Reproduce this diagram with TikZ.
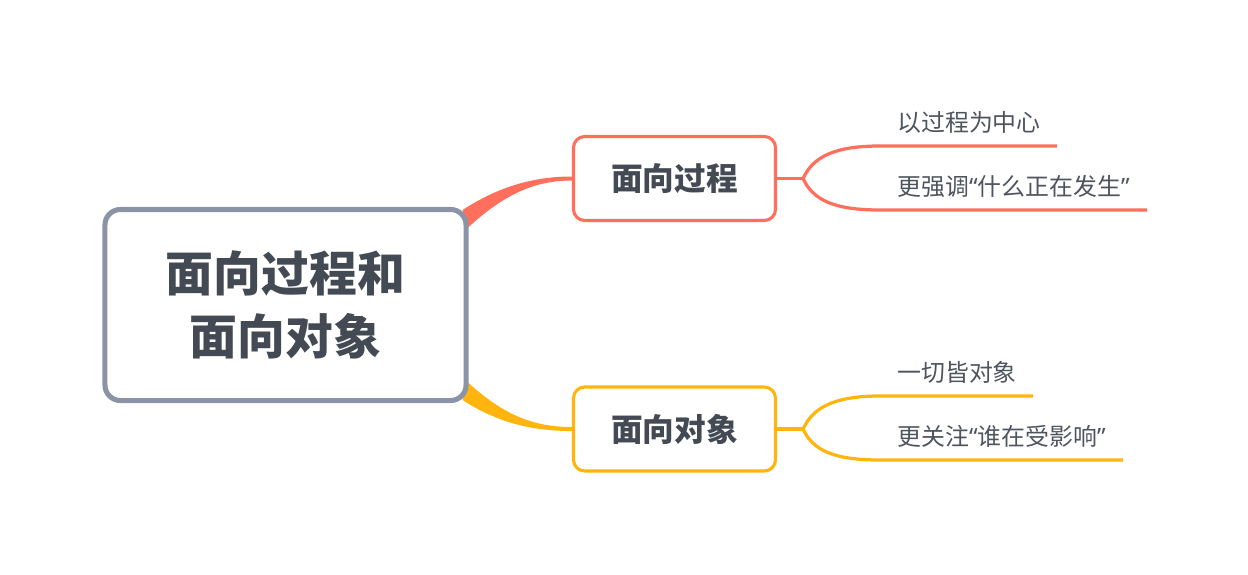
\documentclass[tikz,border=0pt]{standalone}
\usepackage{fontspec}
\setmainfont{Noto Sans CJK SC}
\newfontfamily\quotefont{Noto Sans}
\usepackage{tikz}
\usetikzlibrary{positioning, calc, backgrounds}
\definecolor{RootGray}{HTML}{8A94A6}
\definecolor{TextDark}{HTML}{434A54}
\definecolor{LeafText}{HTML}{4E555E}
\definecolor{ProcRed}{HTML}{FF6F5B}
\definecolor{ObjGold}{HTML}{FFB50D}
\newcommand{\oq}{{\quotefont “}}
\newcommand{\cq}{{\quotefont ”}}

\begin{document}
\begin{tikzpicture}[
    x=0.025cm, y=-0.025cm,
    root/.style={rectangle, draw=RootGray, line width=3.6pt, rounded corners=11pt, fill=white,
        minimum width=9.025cm, minimum height=4.775cm, align=center, text=TextDark,
        font=\fontsize{34}{45}\selectfont\bfseries},
    topic/.style={rectangle, line width=2.2pt, rounded corners=8pt, fill=white,
        minimum width=5.05cm, minimum height=2.1cm, text=TextDark,
        font=\fontsize{22.5}{26}\selectfont\bfseries},
    leaf/.style={anchor=west, inner sep=0pt, text=LeafText, font=\fontsize{17}{20}\selectfont},
    branch/.style={line width=2.3pt}
]
\useasboundingbox (0,0) rectangle (1248,574);

% Root
\node[root] (root) at (285.5,305) {面向过程和\\面向对象};

% Two topics
\node[topic, draw=ProcRed] (proc) at (674.5,178.5) {面向过程};
\node[topic, draw=ObjGold] (obj) at (674.5,429) {面向对象};

% Tapered connectors from root
\begin{scope}[on background layer]
\fill[ProcRed] ($(root.north east)+(-6,3)$) .. controls +(37,-24) and +(-37,0) .. ($(proc.west)+(0,-2)$)
    -- ($(proc.west)+(0,2)$) .. controls +(-37,0) and +(37,-34) .. ($(root.north east)+(-1,21)$) -- cycle;
\fill[ObjGold] ($(root.south east)+(-1,-21)$) .. controls +(37,34) and +(-37,0) .. ($(obj.west)+(0,-2)$)
    -- ($(obj.west)+(0,2)$) .. controls +(-37,0) and +(37,24) .. ($(root.south east)+(-6,-3)$) -- cycle;
\end{scope}

% Forks
\coordinate (pfork) at ($(proc.east)+(26,0)$);
\coordinate (ofork) at ($(obj.east)+(26,0)$);
\draw[branch, ProcRed] (proc.east) -- (pfork);
\draw[branch, ObjGold] (obj.east) -- (ofork);

% Leaves of 面向过程
\node[leaf] (p1) at (897,122) {以过程为中心};
\node[leaf] (p2) at (897,186) {更强调\oq 什么正在发生\cq};
\coordinate (p1end) at (1057,146);
\coordinate (p2end) at (1147,210);
\draw[branch, ProcRed] (pfork) .. controls +(10,-22) and +(-45,0) .. (880,146) -- (p1end);
\draw[branch, ProcRed] (pfork) .. controls +(10,22) and +(-45,0) .. (880,210) -- (p2end);

% Leaves of 面向对象
\node[leaf] (o1) at (897,372) {一切皆对象};
\node[leaf] (o2) at (897,436) {更关注\oq 谁在受影响\cq};
\coordinate (o1end) at (1033,396);
\coordinate (o2end) at (1123,460);
\draw[branch, ObjGold] (ofork) .. controls +(10,-22) and +(-45,0) .. (880,396) -- (o1end);
\draw[branch, ObjGold] (ofork) .. controls +(10,22) and +(-45,0) .. (880,460) -- (o2end);
\end{tikzpicture}
\end{document}
